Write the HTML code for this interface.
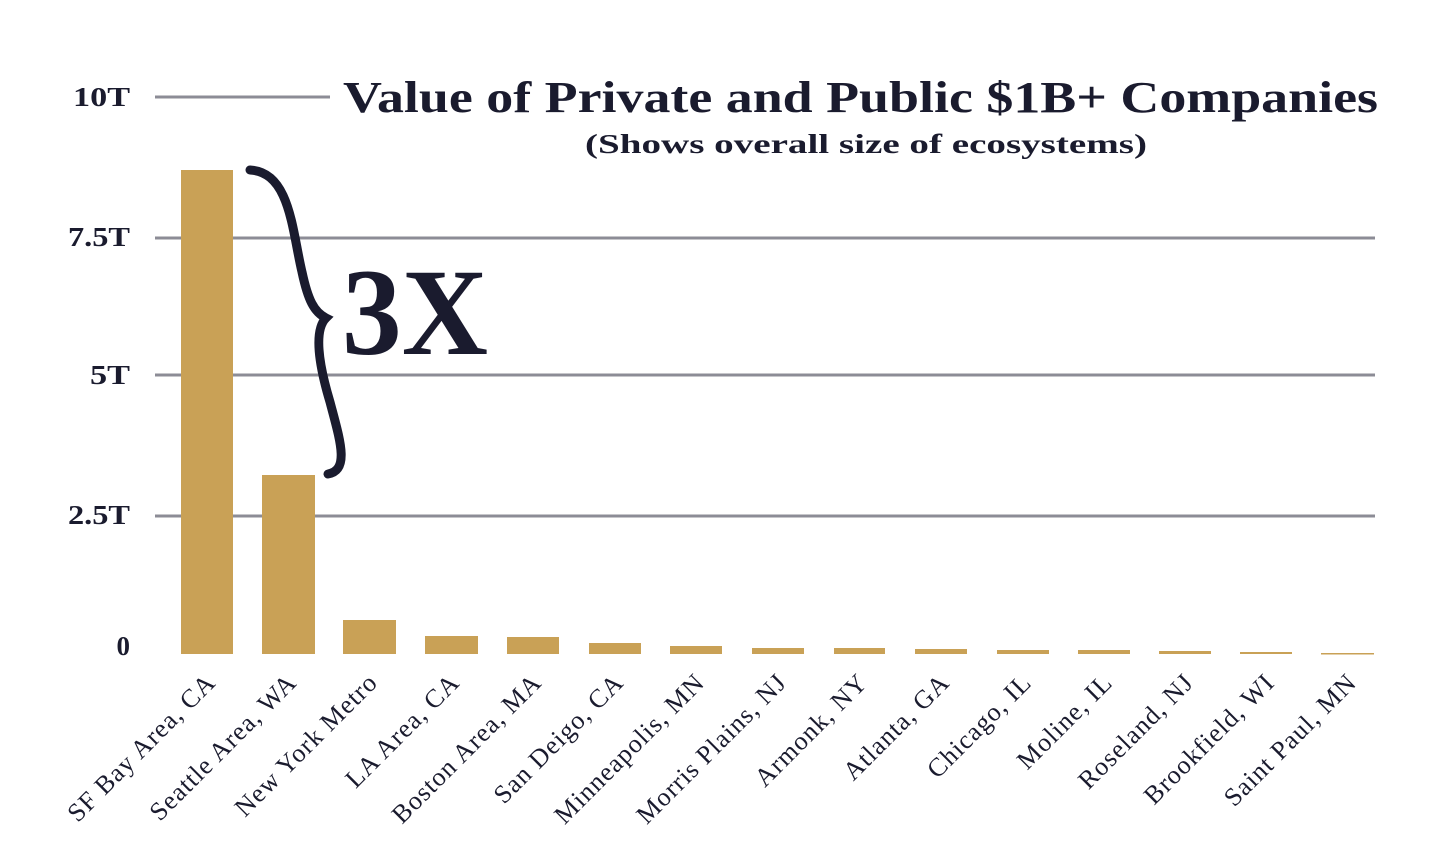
<!DOCTYPE html>
<html><head><meta charset="utf-8"><style>
html,body{margin:0;padding:0;background:#fff;}
svg{display:block}
</style></head><body>
<svg width="1434" height="867" viewBox="0 0 1434 867" xmlns="http://www.w3.org/2000/svg">
<g stroke="#8c8c96" stroke-width="3">
<line x1="155" y1="97" x2="330" y2="97"/>
<line x1="155" y1="238" x2="1375" y2="238"/>
<line x1="155" y1="375" x2="1375" y2="375"/>
<line x1="155" y1="516" x2="1375" y2="516"/>
</g>
<g font-family="'Liberation Serif',serif" font-weight="bold" font-size="27" fill="#1a1b2e" text-anchor="end">
<text x="130" y="106" textLength="57" lengthAdjust="spacingAndGlyphs">10T</text>
<text x="130" y="246" textLength="62" lengthAdjust="spacingAndGlyphs">7.5T</text>
<text x="130" y="384" textLength="40" lengthAdjust="spacingAndGlyphs">5T</text>
<text x="130" y="524" textLength="62" lengthAdjust="spacingAndGlyphs">2.5T</text>
<text x="130" y="655">0</text>
</g>
<g fill="#c9a156">
<rect x="181" y="170" width="52" height="484"/>
<rect x="262" y="475" width="53" height="179"/>
<rect x="343" y="620" width="53" height="34"/>
<rect x="425" y="636" width="53" height="18"/>
<rect x="507" y="637" width="52" height="17"/>
<rect x="589" y="643" width="52" height="11"/>
<rect x="670" y="646" width="52" height="8"/>
<rect x="752" y="648" width="52" height="6"/>
<rect x="834" y="648" width="51" height="6"/>
<rect x="915" y="649" width="52" height="5"/>
<rect x="997" y="650" width="52" height="4"/>
<rect x="1078" y="650" width="52" height="4"/>
<rect x="1159" y="651" width="52" height="3"/>
<rect x="1240" y="652" width="52" height="2"/>
<rect x="1321" y="653" width="53" height="1.5"/>
</g>
<g font-family="'Liberation Serif',serif" font-size="26" letter-spacing="1" fill="#1a1b2e" text-anchor="end">
<text transform="translate(217,684) rotate(-45)">SF Bay Area, CA</text>
<text transform="translate(298,684) rotate(-45)">Seattle Area, WA</text>
<text transform="translate(379,684) rotate(-45)">New York Metro</text>
<text transform="translate(461,684) rotate(-45)">LA Area, CA</text>
<text transform="translate(543,684) rotate(-45)">Boston Area, MA</text>
<text transform="translate(625,684) rotate(-45)">San Deigo, CA</text>
<text transform="translate(706,684) rotate(-45)">Minneapolis, MN</text>
<text transform="translate(788,684) rotate(-45)">Morris Plains, NJ</text>
<text transform="translate(869,684) rotate(-45)">Armonk, NY</text>
<text transform="translate(951,684) rotate(-45)">Atlanta, GA</text>
<text transform="translate(1033,684) rotate(-45)">Chicago, IL</text>
<text transform="translate(1114,684) rotate(-45)">Moline, IL</text>
<text transform="translate(1195,684) rotate(-45)">Roseland, NJ</text>
<text transform="translate(1276,684) rotate(-45)">Brookfield, WI</text>
<text transform="translate(1358,684) rotate(-45)">Saint Paul, MN</text>
</g>
<text x="1378" y="112" text-anchor="end" font-family="'Liberation Serif',serif" font-weight="bold" font-size="44" fill="#1a1b2e" textLength="1035" lengthAdjust="spacingAndGlyphs">Value of Private and Public $1B+ Companies</text>
<text x="866" y="153" text-anchor="middle" font-family="'Liberation Serif',serif" font-weight="bold" font-size="27" fill="#1a1b2e" textLength="562" lengthAdjust="spacingAndGlyphs">(Shows overall size of ecosystems)</text>
<path d="M250,170 C290,172 292,230 302,272 C308,300 314,312 326,318 C314,330 318,362 330,402 C340,440 350,470 328,474" fill="none" stroke="#1a1b2e" stroke-width="9" stroke-linecap="round"/>
<text x="342" y="354" font-family="'Liberation Serif',serif" font-weight="bold" font-size="124" fill="#1a1b2e" textLength="146" lengthAdjust="spacingAndGlyphs">3X</text>
</svg>
</body></html>
